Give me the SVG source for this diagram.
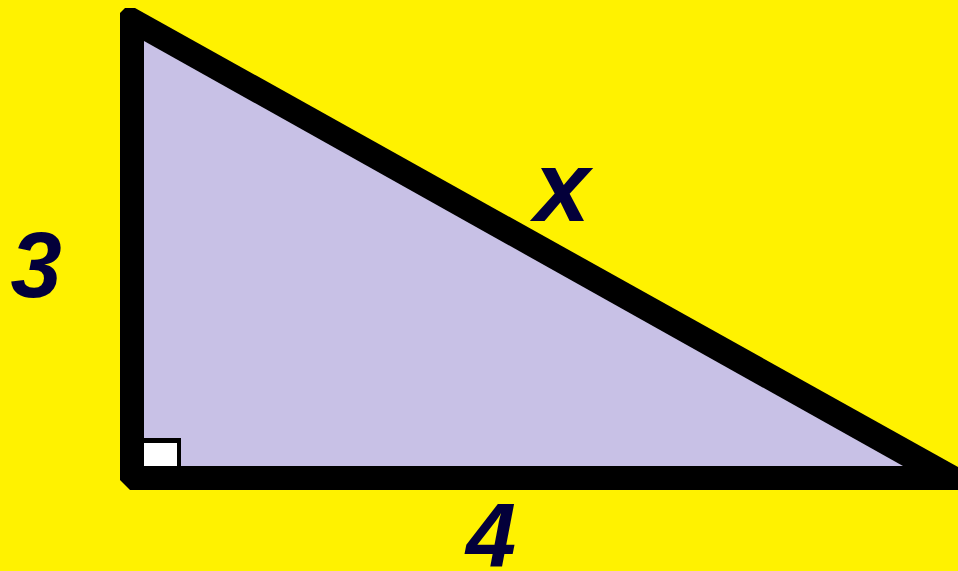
<svg xmlns="http://www.w3.org/2000/svg" width="958" height="571" viewBox="0 0 958 571">
<style>
.lbl{font-family:"Liberation Sans",Arial,sans-serif;font-weight:bold;font-style:italic;fill:#03003A;text-anchor:middle}
</style>
<rect x="0" y="0" width="958" height="571" fill="#FFF200"/>
<g id="triangle">
<polygon points="120,13 125,8 135,8 958,467 958,490 130,490 120,480" fill="#000"/>
<polygon points="144,41 144,466 903,466" fill="#C8C1E6"/>
</g>
<g id="right-angle">
<rect x="144" y="438" width="37" height="28" fill="#000"/>
<rect x="144" y="443" width="33" height="23" fill="#FFF"/>
</g>
<g id="labels">
<text class="lbl" x="36" y="297" font-size="92">3</text>
<text class="lbl" x="562" y="221" font-size="100">x</text>
<text class="lbl" x="491" y="567" font-size="90">4</text>
</g>
</svg>
